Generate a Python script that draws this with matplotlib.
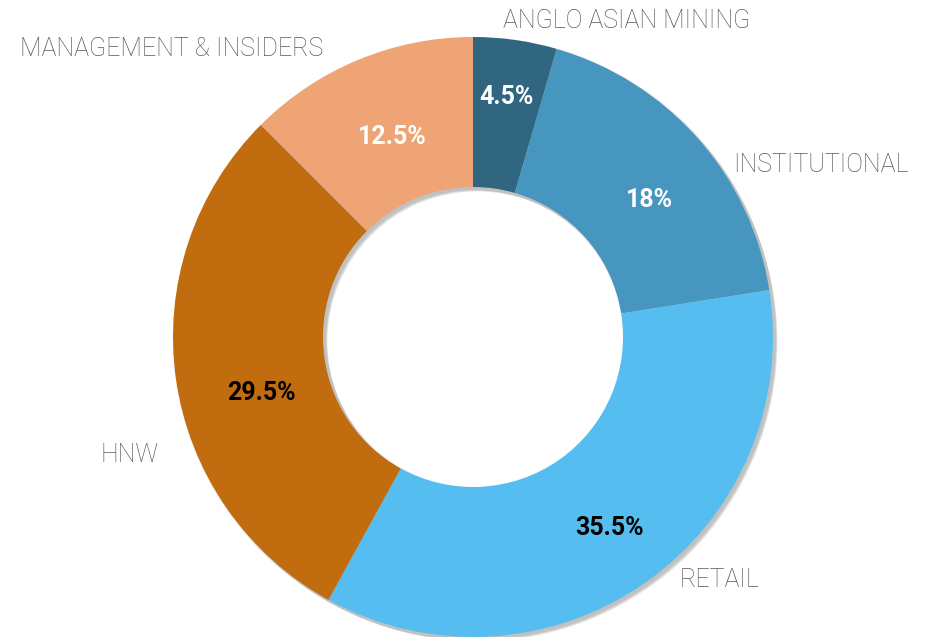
import matplotlib.pyplot as plt

# shareholder structure
labels = ['ANGLO ASIAN MINING', 'INSTITUTIONAL', 'RETAIL', 'HNW', 'MANAGEMENT & INSIDERS']
shares = [4.5, 18, 35.5, 29.5, 12.5]
colors = ['#30667F', '#4796C0', '#56BDF0', '#C06C0F', '#EEA474']
pct_colors = ['white', 'white', 'black', 'black', 'white']

# text positions in figure pixels (x from left, y from top)
label_pos = [(503, 21), (733, 165), (680, 580), (100, 455), (20, 49)]
pct_pos = [(507, 97), (649, 200), (610, 528), (261, 393), (392, 137)]

W, H = 930, 637
cx, cy, R = 473, 337, 300

fig = plt.figure(figsize=(W / 100, H / 100), dpi=100)
ax = fig.add_axes([0, 0, 1, 1])

# soft drop shadow: stack of faint offset grey rings
for i, a in enumerate([0.05, 0.06, 0.07, 0.08]):
    off = (1.5 + i) / R
    ax.pie([1], radius=1 + (3 - i) * 0.5 / R, center=(off, -off),
           colors=['#000000'], startangle=90,
           wedgeprops=dict(width=0.5 + (3 - i) / R, alpha=a, linewidth=0))

ax.pie(shares, radius=1, colors=colors, startangle=90, counterclock=False,
       wedgeprops=dict(width=0.5, linewidth=0))

# pie() resets limits, so fix them afterwards (1 data unit = R pixels)
ax.set_aspect('auto')
ax.set_xlim(-cx / R, (W - cx) / R)
ax.set_ylim(-(H - cy) / R, cy / R)
ax.axis('off')

for txt, (x, y) in zip(labels, label_pos):
    fig.text(x / W, 1 - y / H, txt, ha='left', va='center',
             fontsize=18, color='#595959', family='Roboto', fontweight='light')

for v, c, (x, y) in zip(shares, pct_colors, pct_pos):
    fig.text(x / W, 1 - y / H, f'{v:g}%', ha='center', va='center',
             fontsize=18, color=c, family='Roboto', fontweight='bold')

fig.savefig('out.png', dpi=100)
